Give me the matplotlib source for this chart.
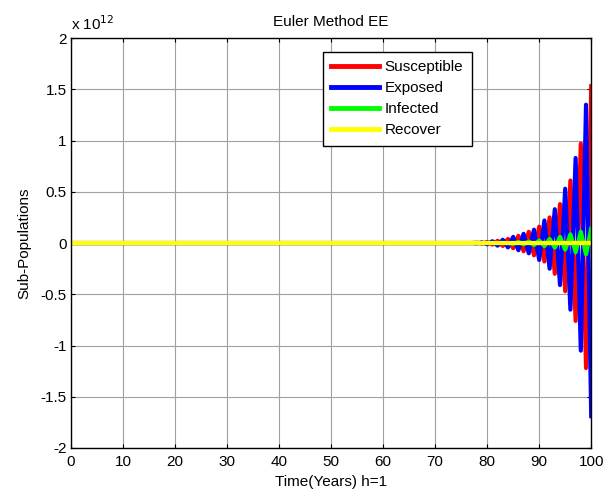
import numpy as np
import matplotlib.pyplot as plt

plt.rcParams['font.family'] = ['Liberation Sans', 'DejaVu Sans']

# time steps, h = 1
t = np.arange(0, 101)

# values in units of 1e12, flat (~0) up to t = 75
flat = [0.0] * 76
susceptible = flat + [0.0, 0.0, 0.004, -0.006, 0.01, -0.015, 0.022, -0.028,
                      0.04, -0.05, 0.07, -0.08, 0.11, -0.12, 0.16, -0.18,
                      0.25, -0.30, 0.38, -0.47, 0.61, -0.76, 0.97, -1.22, 1.53]
exposed = flat + [0.0, 0.0, -0.004, 0.007, -0.012, 0.018, -0.025, 0.032,
                  -0.042, 0.06, -0.07, 0.09, -0.10, 0.13, -0.165, 0.22,
                  -0.25, 0.33, -0.41, 0.53, -0.65, 0.83, -1.05, 1.35, -1.69]
infected = flat + [0.0, 0.0, 0.0, 0.0, 0.0, 0.0, 0.0, 0.0,
                   0.0, -0.008, 0.01, -0.012, 0.015, -0.02, 0.025, -0.03,
                   0.04, -0.045, 0.06, -0.065, 0.085, -0.09, 0.11, -0.11, 0.14]
recover = [0.0] * 101

fig = plt.figure(figsize=(6.07, 4.95), dpi=100)
ax = fig.add_axes([0.117, 0.095, 0.857, 0.828])

ax.plot(t, susceptible, color='#ff0000', lw=3, label='Susceptible')
ax.plot(t, exposed, color='#0000ff', lw=3, label='Exposed')
ax.plot(t, infected, color='#00ff00', lw=3, label='Infected')
ax.plot(t, recover, color='#ffff00', lw=3, label='Recover')

ax.set_xlim(0, 100)
ax.set_ylim(-2, 2)
ax.set_xticks(np.arange(0, 101, 10))
ax.set_yticks(np.arange(-2, 2.01, 0.5))
ax.set_yticklabels(['-2', '-1.5', '-1', '-0.5', '0', '0.5', '1', '1.5', '2'])
ax.grid(True, color='#a0a0a0', lw=0.8)
ax.tick_params(direction='in', top=True, right=True, length=3, labelsize=11)
ax.tick_params(axis='x', pad=5)
ax.tick_params(axis='y', pad=3)
for s in ax.spines.values():
    s.set_linewidth(1)

ax.text(0.0, 1.012, r'x 10$^{12}$', transform=ax.transAxes, fontsize=11,
        ha='left', va='bottom')
ax.set_title('Euler Method EE', fontsize=11, pad=9)
ax.set_xlabel('Time(Years) h=1', fontsize=11)
ax.set_ylabel('Sub-Populations', fontsize=11)
ax.xaxis.set_label_coords(0.5, -0.066)
ax.yaxis.set_label_coords(-0.077, 0.5)

leg = ax.legend(loc='upper left', bbox_to_anchor=(0.484, 0.967), fontsize=11,
                fancybox=False, framealpha=1, edgecolor='black',
                borderaxespad=0, handlelength=3.1, handletextpad=0.4,
                borderpad=0.55, labelspacing=0.46)
for h in leg.get_lines():
    h.set_linewidth(3.5)
leg.get_frame().set_linewidth(1)

fig.savefig('out.png', dpi=100)
